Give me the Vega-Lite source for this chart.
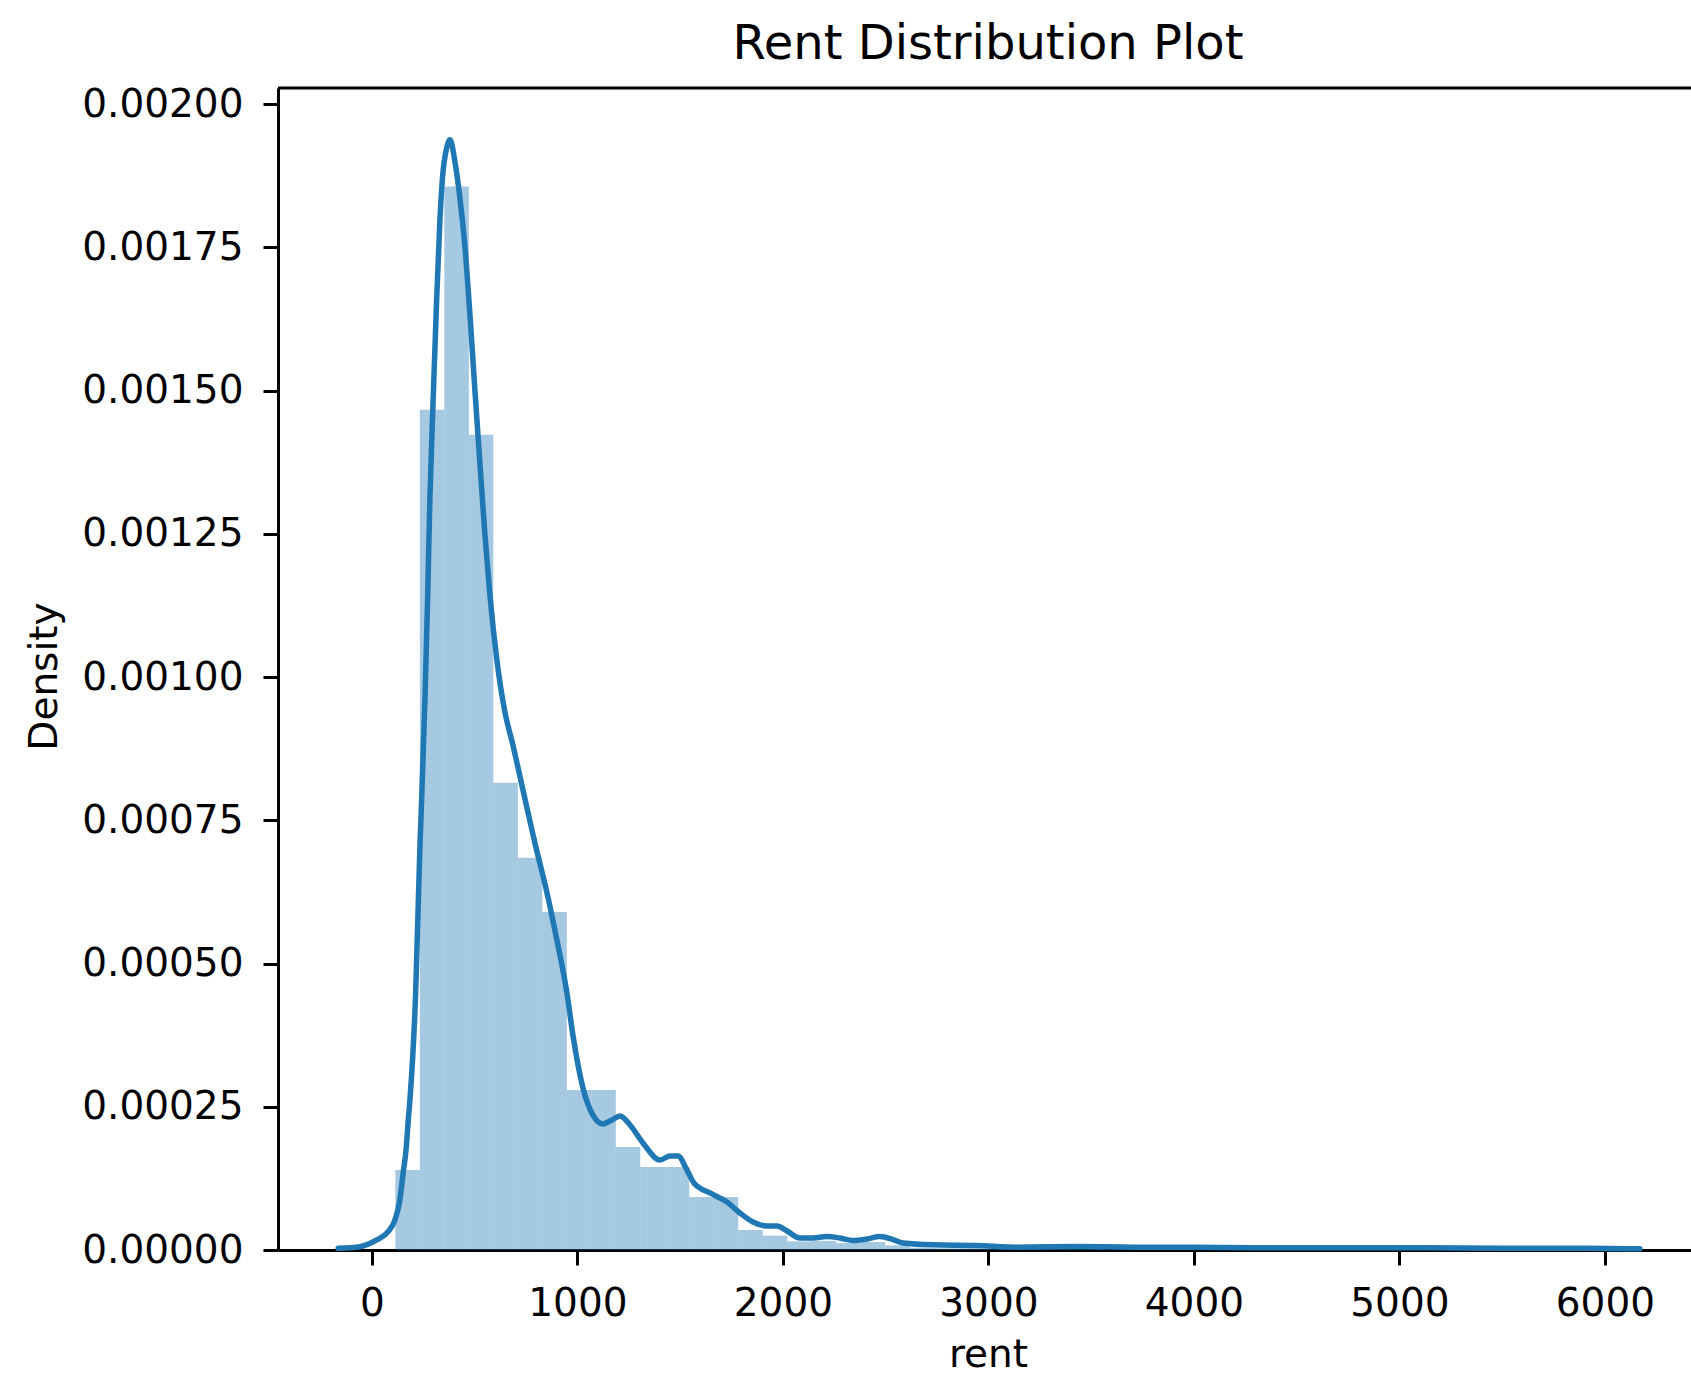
{
  "$schema": "https://vega.github.io/schema/vega-lite/v6.json",
  "width": 1413,
  "height": 1162,
  "autosize": {"type": "none"},
  "padding": {"left": 278, "top": 88, "right": 0, "bottom": 126},
  "background": "white",
  "config": {"view": {"stroke": null}, "font": "DejaVu Sans"},
  "title": {"text": "Rent Distribution Plot", "fontSize": 48, "fontWeight": "normal", "color": "black", "font": "DejaVu Sans", "anchor": "middle", "frame": "group", "baseline": "alphabetic", "offset": 20, "dx": 3.5, "dy": 42},
  "datasets": {
    "bins": [
      {"bin_start": 114.0, "bin_end": 233.2, "density": 0.0001397},
      {"bin_start": 233.2, "bin_end": 352.4, "density": 0.0014665},
      {"bin_start": 352.4, "bin_end": 471.6, "density": 0.0018563},
      {"bin_start": 471.6, "bin_end": 590.8, "density": 0.0014228},
      {"bin_start": 590.8, "bin_end": 710.0, "density": 0.0008153},
      {"bin_start": 710.0, "bin_end": 829.2, "density": 0.0006844},
      {"bin_start": 829.2, "bin_end": 948.4, "density": 0.0005901},
      {"bin_start": 948.4, "bin_end": 1067.6, "density": 0.0002793},
      {"bin_start": 1067.6, "bin_end": 1186.8, "density": 0.0002793},
      {"bin_start": 1186.8, "bin_end": 1306.0, "density": 0.0001798},
      {"bin_start": 1306.0, "bin_end": 1425.2, "density": 0.0001449},
      {"bin_start": 1425.2, "bin_end": 1544.4, "density": 0.0001449},
      {"bin_start": 1544.4, "bin_end": 1663.6, "density": 0.0000925},
      {"bin_start": 1663.6, "bin_end": 1782.8, "density": 0.0000925},
      {"bin_start": 1782.8, "bin_end": 1902.0, "density": 0.0000349},
      {"bin_start": 1902.0, "bin_end": 2021.2, "density": 0.000025},
      {"bin_start": 2021.2, "bin_end": 2140.4, "density": 0.000015},
      {"bin_start": 2140.4, "bin_end": 2259.6, "density": 0.000016},
      {"bin_start": 2259.6, "bin_end": 2378.8, "density": 0.000012},
      {"bin_start": 2378.8, "bin_end": 2498.0, "density": 0.000014},
      {"bin_start": 2498.0, "bin_end": 2617.2, "density": 0.000008},
      {"bin_start": 2617.2, "bin_end": 2736.4, "density": 0.000004},
      {"bin_start": 2736.4, "bin_end": 2855.6, "density": 0.000003},
      {"bin_start": 2855.6, "bin_end": 2974.8, "density": 0.000003},
      {"bin_start": 2974.8, "bin_end": 3094.0, "density": 0.000002},
      {"bin_start": 3094.0, "bin_end": 3213.2, "density": 0.000001},
      {"bin_start": 3213.2, "bin_end": 3332.4, "density": 0.000002},
      {"bin_start": 3332.4, "bin_end": 3451.6, "density": 0.000003},
      {"bin_start": 3451.6, "bin_end": 3570.8, "density": 0.000002},
      {"bin_start": 3570.8, "bin_end": 3690.0, "density": 0.000001},
      {"bin_start": 3690.0, "bin_end": 3809.2, "density": 0.000001},
      {"bin_start": 3809.2, "bin_end": 3928.4, "density": 0.000002},
      {"bin_start": 3928.4, "bin_end": 4047.6, "density": 0.000002},
      {"bin_start": 4047.6, "bin_end": 4166.8, "density": 0.000001},
      {"bin_start": 4166.8, "bin_end": 4286.0, "density": 0.000001},
      {"bin_start": 4286.0, "bin_end": 4405.2, "density": 0.000001},
      {"bin_start": 4405.2, "bin_end": 4524.4, "density": 0.000001},
      {"bin_start": 4524.4, "bin_end": 4643.6, "density": 0.000001},
      {"bin_start": 4643.6, "bin_end": 4762.8, "density": 0.000001},
      {"bin_start": 4762.8, "bin_end": 4882.0, "density": 0.000001},
      {"bin_start": 4882.0, "bin_end": 5001.2, "density": 0.000001},
      {"bin_start": 5001.2, "bin_end": 5120.4, "density": 0.000001},
      {"bin_start": 5120.4, "bin_end": 5239.6, "density": 0.000001},
      {"bin_start": 5239.6, "bin_end": 5358.8, "density": 0.000001},
      {"bin_start": 5358.8, "bin_end": 5478.0, "density": 0.000001},
      {"bin_start": 5478.0, "bin_end": 5597.2, "density": 0.000001},
      {"bin_start": 5597.2, "bin_end": 5716.4, "density": 0.000001},
      {"bin_start": 5716.4, "bin_end": 5835.6, "density": 0.000001},
      {"bin_start": 5835.6, "bin_end": 5954.8, "density": 0.000001},
      {"bin_start": 5954.8, "bin_end": 6074.0, "density": 0.000001}
    ],
    "kde": [
      {"rent": -164, "density": 0.000003},
      {"rent": -58, "density": 0.0000058},
      {"rent": 23, "density": 0.0000175},
      {"rent": 79, "density": 0.0000319},
      {"rent": 112, "density": 0.0000524},
      {"rent": 136, "density": 0.0000873},
      {"rent": 152, "density": 0.0001344},
      {"rent": 166, "density": 0.0001746},
      {"rent": 177, "density": 0.000227},
      {"rent": 185, "density": 0.0002619},
      {"rent": 213, "density": 0.0004504},
      {"rent": 234, "density": 0.0007088},
      {"rent": 242, "density": 0.0007856},
      {"rent": 258, "density": 0.0009602},
      {"rent": 271, "density": 0.0011348},
      {"rent": 282, "density": 0.0013094},
      {"rent": 298, "density": 0.0014839},
      {"rent": 315, "density": 0.0016585},
      {"rent": 331, "density": 0.0017982},
      {"rent": 347, "density": 0.0018855},
      {"rent": 360, "density": 0.0019169},
      {"rent": 380, "density": 0.0019378},
      {"rent": 404, "density": 0.0018994},
      {"rent": 428, "density": 0.0018366},
      {"rent": 453, "density": 0.0017493},
      {"rent": 477, "density": 0.0016323},
      {"rent": 501, "density": 0.0015014},
      {"rent": 526, "density": 0.0013705},
      {"rent": 550, "density": 0.0012482},
      {"rent": 574, "density": 0.0011435},
      {"rent": 608, "density": 0.00103},
      {"rent": 647, "density": 0.0009392},
      {"rent": 686, "density": 0.0008816},
      {"rent": 735, "density": 0.0008031},
      {"rent": 793, "density": 0.0007105},
      {"rent": 852, "density": 0.0006233},
      {"rent": 900, "density": 0.0005412},
      {"rent": 949, "density": 0.0004487},
      {"rent": 978, "density": 0.0003753},
      {"rent": 1027, "density": 0.0002828},
      {"rent": 1075, "density": 0.0002357},
      {"rent": 1124, "density": 0.00022},
      {"rent": 1168, "density": 0.000227},
      {"rent": 1207, "density": 0.0002339},
      {"rent": 1260, "density": 0.0002165},
      {"rent": 1319, "density": 0.0001868},
      {"rent": 1402, "density": 0.0001571},
      {"rent": 1450, "density": 0.0001641},
      {"rent": 1489, "density": 0.0001641},
      {"rent": 1533, "density": 0.0001397},
      {"rent": 1567, "density": 0.000117},
      {"rent": 1645, "density": 0.0000995},
      {"rent": 1728, "density": 0.0000838},
      {"rent": 1791, "density": 0.0000646},
      {"rent": 1854, "density": 0.0000489},
      {"rent": 1922, "density": 0.0000419},
      {"rent": 1971, "density": 0.0000419},
      {"rent": 2020, "density": 0.0000332},
      {"rent": 2083, "density": 0.000021},
      {"rent": 2146, "density": 0.000021},
      {"rent": 2214, "density": 0.0000236},
      {"rent": 2277, "density": 0.000021},
      {"rent": 2341, "density": 0.0000166},
      {"rent": 2409, "density": 0.0000192},
      {"rent": 2472, "density": 0.0000236},
      {"rent": 2535, "density": 0.0000183},
      {"rent": 2584, "density": 0.0000122},
      {"rent": 2730, "density": 0.000009},
      {"rent": 2940, "density": 0.000008},
      {"rent": 3140, "density": 0.000005},
      {"rent": 3450, "density": 0.000006},
      {"rent": 3700, "density": 0.000005},
      {"rent": 3970, "density": 0.000005},
      {"rent": 4300, "density": 0.000004},
      {"rent": 4700, "density": 0.000004},
      {"rent": 5100, "density": 0.000004},
      {"rent": 5500, "density": 0.000003},
      {"rent": 5900, "density": 0.000003},
      {"rent": 6170, "density": 0.000002}
    ]
  },
  "layer": [
    {
      "data": {"name": "bins"},
      "mark": {"type": "bar", "color": "#1f77b4", "opacity": 0.4, "stroke": null},
      "encoding": {
        "x": {
          "field": "bin_start", "type": "quantitative", "title": "rent",
          "scale": {"domain": [-457, 6419], "nice": false, "zero": false},
          "axis": {
            "values": [0, 1000, 2000, 3000, 4000, 5000, 6000], "format": "d", "grid": false,
            "labelFontSize": 39, "labelColor": "black", "labelFont": "DejaVu Sans", "labelPadding": 19,
            "tickColor": "black", "tickSize": 15, "tickWidth": 3,
            "domainColor": "black", "domainWidth": 3,
            "titleFontSize": 39, "titleFontWeight": "normal", "titleColor": "black", "titleFont": "DejaVu Sans",
            "titlePadding": 12, "titleX": 710
          }
        },
        "x2": {"field": "bin_end"},
        "y": {
          "field": "density", "type": "quantitative", "title": "Density",
          "scale": {"domain": [0, 0.002028], "nice": false, "zero": true},
          "axis": {
            "values": [0, 0.00025, 0.0005, 0.00075, 0.001, 0.00125, 0.0015, 0.00175, 0.002], "format": ".5f", "grid": false,
            "labelFontSize": 39, "labelColor": "black", "labelFont": "DejaVu Sans", "labelPadding": 20,
            "tickColor": "black", "tickSize": 15, "tickWidth": 3,
            "domainColor": "black", "domainWidth": 3,
            "titleFontSize": 39, "titleFontWeight": "normal", "titleColor": "black", "titleFont": "DejaVu Sans",
            "titleAngle": 270, "titleBaseline": "alphabetic", "titleAlign": "center", "titleX": -222, "titleY": 588
          }
        },
        "y2": {"datum": 0}
      }
    },
    {
      "data": {"name": "kde"},
      "mark": {"type": "line", "color": "#1f77b4", "strokeWidth": 5.5, "interpolate": "monotone", "strokeCap": "round", "strokeJoin": "round"},
      "encoding": {
        "x": {"field": "rent", "type": "quantitative", "title": "rent"},
        "y": {"field": "density", "type": "quantitative", "title": "Density"}
      }
    },
    {
      "data": {"values": [{}]},
      "mark": {"type": "rule", "color": "black", "strokeWidth": 3},
      "encoding": {"y": {"datum": 0.002028, "type": "quantitative", "title": "Density"}}
    }
  ]
}
